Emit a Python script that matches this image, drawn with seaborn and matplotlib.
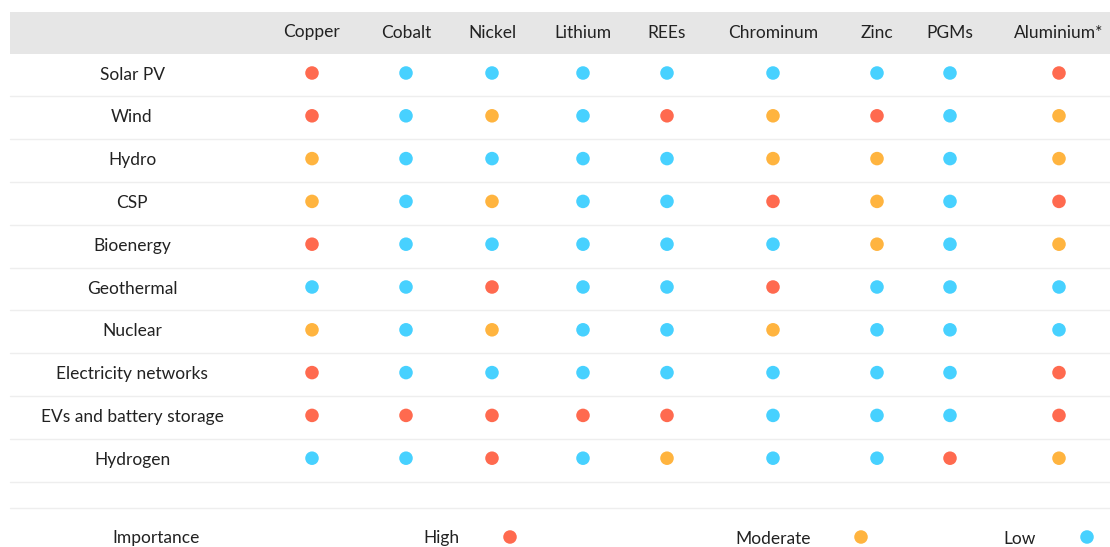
import matplotlib
matplotlib.use("Agg")
import matplotlib.pyplot as plt
import seaborn as sns
import pandas as pd

technologies = ["Solar PV", "Wind", "Hydro", "CSP", "Bioenergy", "Geothermal",
                "Nuclear", "Electricity networks", "EVs and battery storage", "Hydrogen"]
minerals = ["Copper", "Cobalt", "Nickel", "Lithium", "REEs", "Chrominum",
            "Zinc", "PGMs", "Aluminium*"]
levels = ["High", "Moderate", "Low"]

# importance of each mineral per technology (H / M / L)
solar_pv = ["H", "L", "L", "L", "L", "L", "L", "L", "H"]
wind = ["H", "L", "M", "L", "H", "M", "H", "L", "M"]
hydro = ["M", "L", "L", "L", "L", "M", "M", "L", "M"]
csp = ["M", "L", "M", "L", "L", "H", "M", "L", "H"]
bioenergy = ["H", "L", "L", "L", "L", "L", "M", "L", "M"]
geothermal = ["L", "L", "H", "L", "L", "H", "L", "L", "L"]
nuclear = ["M", "L", "M", "L", "L", "M", "L", "L", "L"]
networks = ["H", "L", "L", "L", "L", "L", "L", "L", "H"]
evs_storage = ["H", "H", "H", "H", "H", "L", "L", "L", "H"]
hydrogen = ["L", "L", "H", "L", "M", "L", "L", "H", "M"]

rows = [solar_pv, wind, hydro, csp, bioenergy, geothermal, nuclear,
        networks, evs_storage, hydrogen]

code_to_level = {"H": "High", "M": "Moderate", "L": "Low"}
palette = {"High": "#ff6a4f", "Moderate": "#ffb43f", "Low": "#47d1ff"}

# layout (pixel coordinates of the canvas)
W, H = 1110, 547
col_x = [312, 406, 492, 583, 667, 773, 877, 950, 1059]
row_y0, row_step = 73, 42.8
label_x = 132
FS = 12.5
TXT = "#222222"
DY = 1.5  # nudge text down so glyphs sit centred on the row

records = []
for i, (tech, vals) in enumerate(zip(technologies, rows)):
    for j, (mineral, code) in enumerate(zip(minerals, vals)):
        records.append({"x": col_x[j], "y": row_y0 + i * row_step,
                        "level": code_to_level[code]})
df = pd.DataFrame(records)

sns.set_theme(style="white")
plt.rcParams["font.family"] = ["Lato", "DejaVu Sans"]

fig = plt.figure(figsize=(W / 100, H / 100), dpi=100)
ax = fig.add_axes([0, 0, 1, 1])

# header band
ax.add_patch(plt.Rectangle((10, 12), W - 10, 42, color="#e6e6e6", lw=0, zorder=0))
for x, name in zip(col_x, minerals):
    ax.text(x, 31 + DY, name, ha="center", va="center", fontsize=FS, color=TXT)

# row separators
n = len(technologies)
for k in range(n):
    y = row_y0 + (k + 0.5) * row_step + 2
    ax.plot([10, W], [y, y], color="#eeeeee", lw=1, zorder=0)
ax.plot([10, W], [508, 508], color="#eeeeee", lw=1, zorder=0)

for i, tech in enumerate(technologies):
    ax.text(label_x, row_y0 + i * row_step + DY, tech, ha="center", va="center",
            fontsize=FS, color=TXT)

sns.scatterplot(data=df, x="x", y="y", hue="level", hue_order=levels,
                palette=palette, s=95, linewidth=0, legend=False, ax=ax)

# importance key
leg_y = 537
ax.text(156, leg_y + DY, "Importance", ha="center", va="center", fontsize=FS, color=TXT)
legend_df = pd.DataFrame({"x": [510, 861, 1087], "y": [leg_y] * 3, "level": levels})
for lx, lvl in zip([441, 773, 1020], levels):
    ax.text(lx, leg_y + DY, lvl, ha="center", va="center", fontsize=FS, color=TXT)
sns.scatterplot(data=legend_df, x="x", y="y", hue="level", hue_order=levels,
                palette=palette, s=95, linewidth=0, legend=False, ax=ax)

ax.set_xlim(0, W)
ax.set_ylim(H, 0)
ax.axis("off")

fig.savefig("out.png", dpi=100, facecolor="white")
